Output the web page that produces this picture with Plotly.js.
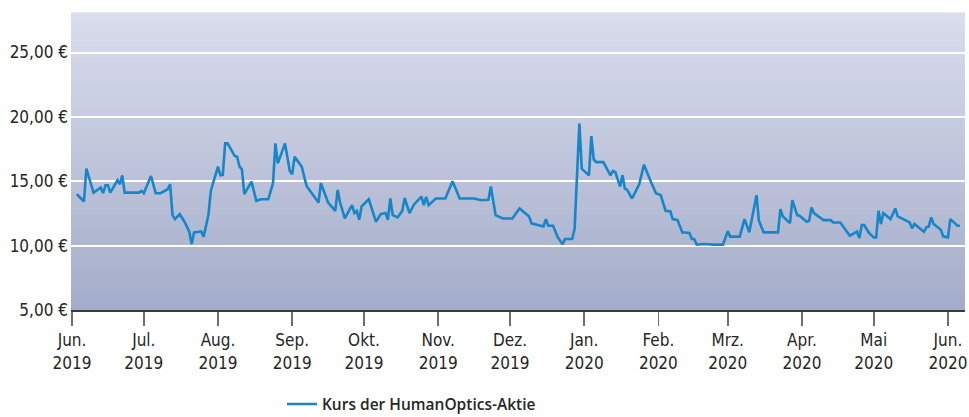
<!DOCTYPE html>
<html>
<head>
<meta charset="utf-8">
<script src="https://cdn.plot.ly/plotly-3.0.1.min.js"></script>
<style>
html,body{margin:0;padding:0;background:#fff;}
#chart{width:969px;height:417px;}
</style>
</head>
<body>
<div id="chart"></div>
<script>
var seriesName = 'Kurs der HumanOptics-Aktie';

var dates = [
'2019-06-03','2019-06-06','2019-06-07','2019-06-10','2019-06-13','2019-06-14','2019-06-15','2019-06-16','2019-06-17','2019-06-20',
'2019-06-21','2019-06-22','2019-06-23','2019-06-29','2019-06-30','2019-07-01','2019-07-04','2019-07-06','2019-07-08','2019-07-11',
'2019-07-12','2019-07-13','2019-07-14','2019-07-16','2019-07-18','2019-07-20','2019-07-21','2019-07-22','2019-07-25','2019-07-26',
'2019-07-28','2019-07-29','2019-08-01','2019-08-02','2019-08-03','2019-08-04','2019-08-05','2019-08-08','2019-08-09','2019-08-10',
'2019-08-11','2019-08-12','2019-08-15','2019-08-17','2019-08-19','2019-08-22','2019-08-24','2019-08-25','2019-08-26','2019-08-29',
'2019-08-31','2019-09-01','2019-09-02','2019-09-05','2019-09-07','2019-09-10','2019-09-12','2019-09-13','2019-09-14','2019-09-16',
'2019-09-19','2019-09-20','2019-09-21','2019-09-23','2019-09-26','2019-09-27','2019-09-28','2019-09-29','2019-09-30','2019-10-03',
'2019-10-06','2019-10-08','2019-10-10','2019-10-11','2019-10-12','2019-10-13','2019-10-15','2019-10-17','2019-10-18','2019-10-20',
'2019-10-22','2019-10-25','2019-10-26','2019-10-27','2019-10-28','2019-10-31','2019-11-04','2019-11-07','2019-11-10','2019-11-16',
'2019-11-19','2019-11-22','2019-11-23','2019-11-25','2019-11-28','2019-12-02','2019-12-05','2019-12-09','2019-12-10','2019-12-14',
'2019-12-15','2019-12-16','2019-12-17','2019-12-19','2019-12-21','2019-12-23','2019-12-24','2019-12-27','2019-12-28','2019-12-30',
'2019-12-31','2020-01-03','2020-01-04','2020-01-05','2020-01-06','2020-01-09','2020-01-12','2020-01-13','2020-01-14','2020-01-16',
'2020-01-17','2020-01-18','2020-01-19','2020-01-21','2020-01-24','2020-01-26','2020-01-27','2020-01-29','2020-01-31','2020-02-02',
'2020-02-04','2020-02-06','2020-02-07','2020-02-09','2020-02-11','2020-02-14','2020-02-15','2020-02-16','2020-02-17','2020-02-20',
'2020-02-24','2020-02-28','2020-03-01','2020-03-02','2020-03-06','2020-03-08','2020-03-10','2020-03-13','2020-03-14','2020-03-16',
'2020-03-22','2020-03-23','2020-03-24','2020-03-27','2020-03-28','2020-03-30','2020-03-31','2020-04-03','2020-04-04','2020-04-05',
'2020-04-06','2020-04-10','2020-04-13','2020-04-14','2020-04-17','2020-04-19','2020-04-21','2020-04-24','2020-04-25','2020-04-26',
'2020-04-27','2020-04-29','2020-05-01','2020-05-02','2020-05-03','2020-05-04','2020-05-05','2020-05-08','2020-05-10','2020-05-11',
'2020-05-15','2020-05-16','2020-05-17','2020-05-18','2020-05-22','2020-05-23','2020-05-24','2020-05-25','2020-05-26','2020-05-29',
'2020-05-30','2020-06-01','2020-06-02','2020-06-05','2020-06-06'
];

var prices = [
14.00,13.43,15.98,14.12,14.51,14.07,14.69,14.69,14.12,15.08,
14.77,15.46,14.12,14.12,14.25,14.07,15.41,14.07,14.07,14.38,
14.77,12.37,12.06,12.45,11.86,11.08,10.13,11.03,11.10,10.70,
12.37,14.25,16.13,15.46,15.50,17.94,17.94,16.96,16.90,16.13,
15.93,14.00,14.97,13.48,13.60,13.60,14.85,17.94,16.39,17.94,
15.80,15.54,16.90,16.13,14.64,13.92,13.35,14.85,14.30,13.35,
12.70,14.33,13.35,12.11,13.14,12.53,12.70,12.01,13.04,13.60,
11.86,12.45,12.53,12.01,13.66,12.37,12.19,12.70,13.71,12.53,
13.22,13.81,13.14,13.79,13.14,13.66,13.66,15.00,13.66,13.66,
13.53,13.56,14.59,12.37,12.11,12.11,12.89,12.27,11.73,11.49,
11.49,12.06,11.55,11.55,10.64,10.10,10.52,10.52,11.29,19.48,
15.98,15.46,18.50,16.70,16.49,16.49,15.46,15.80,15.72,14.59,
15.46,14.43,14.33,13.66,14.77,16.29,15.80,14.90,14.07,13.92,
12.71,12.65,12.06,11.98,11.03,10.98,10.52,10.52,10.08,10.13,
10.08,10.08,11.13,10.70,10.70,12.06,11.03,13.92,11.93,11.03,
11.03,12.84,12.27,11.75,13.53,12.37,12.32,11.86,11.93,12.96,
12.53,11.98,11.98,11.80,11.80,11.24,10.77,11.08,10.59,11.60,
11.60,10.98,10.64,10.64,12.71,11.68,12.53,12.06,12.89,12.27,
11.86,11.80,11.34,11.68,11.08,11.42,11.49,12.19,11.68,11.24,
10.72,10.64,12.06,11.55,11.55
];

var xTickVals = ['2019-06-01','2019-07-01','2019-08-01','2019-09-01','2019-10-01','2019-11-01','2019-12-01',
                 '2020-01-01','2020-02-01','2020-03-01','2020-04-01','2020-05-01','2020-06-01'];
var xTickText = ['Jun.<br>2019','Jul.<br>2019','Aug.<br>2019','Sep.<br>2019','Okt.<br>2019','Nov.<br>2019','Dez.<br>2019',
                 'Jan.<br>2020','Feb.<br>2020','Mrz.<br>2020','Apr.<br>2020','Mai<br>2020','Jun.<br>2020'];
var yTickVals = [5, 10, 15, 20, 25];
var yTickText = ['5,00 €','10,00 €','15,00 €','20,00 €','25,00 €'];

// vertical gradient background built from layout shapes (domain-referenced)
var topCol = [218, 221, 236], botCol = [163, 172, 201];
var bands = 60, shapes = [];
for (var i = 0; i < bands; i++) {
  var t = (i + 0.5) / bands;
  var c = topCol.map(function (v, k) { return Math.round(v + (botCol[k] - v) * t); });
  shapes.push({
    type: 'rect', xref: 'x domain', yref: 'y domain', layer: 'below',
    x0: 0, x1: 1, y0: 1 - (i + 1) / bands - 0.002, y1: 1 - i / bands + 0.002,
    fillcolor: 'rgb(' + c.join(',') + ')', line: {width: 0}
  });
}

var tickFont = {family: '"Liberation Sans Narrow", "DejaVu Sans Condensed", sans-serif', size: 17, color: '#262626'};

var data = [{
  type: 'scatter', mode: 'lines', name: seriesName,
  x: dates, y: prices,
  line: {color: '#1786c9', width: 2.6}
}];

var layout = {
  width: 969, height: 417,
  margin: {l: 71, r: 4, t: 13, b: 107, autoexpand: false},
  paper_bgcolor: '#ffffff',
  plot_bgcolor: 'rgba(0,0,0,0)',
  shapes: shapes,
  showlegend: true,
  legend: {
    orientation: 'h', xref: 'container', yref: 'container',
    x: 0.291, xanchor: 'left', y: 0.03, yanchor: 'middle',
    font: {family: '"Open Sans", sans-serif', size: 15.5, color: '#262626', weight: 600},
    bgcolor: 'rgba(0,0,0,0)'
  },
  xaxis: {
    type: 'date', automargin: false,
    range: ['2019-05-31 14:00', '2020-06-08 03:00'],
    tickmode: 'array', tickvals: xTickVals, ticktext: xTickText,
    ticks: 'outside', ticklen: 14, tickwidth: 1.5, tickcolor: '#6e6e6e',
    showgrid: false, zeroline: false,
    showline: true, linecolor: '#3a3a3a', linewidth: 2,
    tickfont: tickFont
  },
  yaxis: {
    automargin: false,
    range: [5, 28.07],
    tickmode: 'array', tickvals: yTickVals, ticktext: yTickText,
    showgrid: true, gridcolor: '#ffffff', gridwidth: 2,
    zeroline: false, showline: false, ticks: '',
    ticklabelstandoff: 2,
    tickfont: tickFont
  }
};

Plotly.newPlot('chart', data, layout, {displayModeBar: false, staticPlot: true});
</script>
</body>
</html>
